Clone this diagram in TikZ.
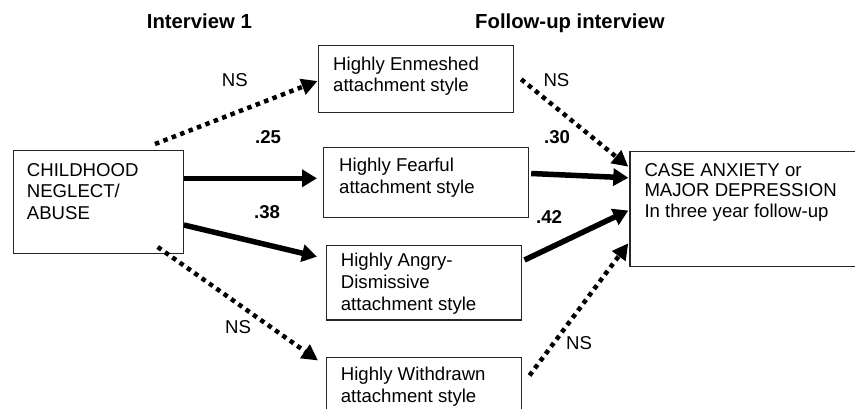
\documentclass[tikz,border=0pt]{standalone}
\usepackage{fontspec}
\setmainfont{Liberation Sans}
\usetikzlibrary{arrows.meta,calc}
\tikzset{
  box/.style={draw=black!85, line width=1.2pt, rectangle, inner sep=0pt, anchor=north west},
  boxtext/.style={anchor=north west, inner sep=0pt, align=left, font=\fontsize{18.6}{21.7}\selectfont},
  lab/.style={anchor=base west, inner sep=0pt, font=\fontsize{18.6}{21.7}\selectfont},
  blab/.style={anchor=base west, inner sep=0pt, font=\fontsize{18.6}{21.7}\selectfont\bfseries},
  ttl/.style={anchor=base west, inner sep=0pt, font=\fontsize{20.3}{24}\selectfont\bfseries},
  solidarrow/.style={line width=5.5pt, -{Triangle[length=15pt,width=17pt]}},
  dotarrow/.style={line width=4.5pt, dash pattern=on 4.5pt off 4.5pt, -{Triangle[length=16pt,width=16pt]}},
}
\begin{document}
\begin{tikzpicture}[x=1pt,y=-1pt]
\useasboundingbox (0,0) rectangle (855,409);
\clip (0,0) rectangle (855,409);

% titles
\node[ttl] (t1) at (146.7,28.3) {Interview 1};
\node[ttl] (t2) at (475,28.3) {Follow-up interview};

% boxes
\node[box, minimum width=170pt, minimum height=102.7pt] (abuse) at (12.7,150) {};
\node[box, minimum width=195pt, minimum height=67pt] (enm) at (318,45) {};
\node[box, minimum width=205pt, minimum height=70pt] (fear) at (322.7,146.7) {};
\node[box, minimum width=194.7pt, minimum height=74.3pt] (angry) at (326,245) {};
\node[box, minimum width=194.7pt, minimum height=70pt] (withd) at (326,356.5) {};
\node[box, minimum width=240pt, minimum height=115.3pt] (dep) at (629.3,150.7) {};

% box texts
\node[boxtext] (abuseT) at ($(abuse.north west)+(14,10.8)$) {\strut CHILDHOOD\\NEGLECT/\\ABUSE};
\node[boxtext] (enmT) at ($(enm.north west)+(15,9.8)$) {\strut Highly Enmeshed\\attachment style};
\node[boxtext] (fearT) at ($(fear.north west)+(16.3,9.8)$) {\strut Highly Fearful\\attachment style};
\node[boxtext] (angryT) at ($(angry.north west)+(14.7,6.5)$) {\strut Highly Angry-\\Dismissive\\attachment style};
\node[boxtext] (withdT) at ($(withd.north west)+(14.7,9)$) {\strut Highly Withdrawn\\attachment style};
\node[boxtext, font=\fontsize{18.6}{20.7}\selectfont] (depT) at ($(dep.north west)+(15,10.8)$) {\strut CASE ANXIETY or\\MAJOR DEPRESSION\\In three year follow-up};

% connectors
\draw[dotarrow] ($(abuse.north west)+(142.3,-6)$) -- ($(enm.north west)+(-0.5,36)$);
\draw[solidarrow] ($(abuse.north east)+(0,28.3)$) -- ($(fear.north west)+(-5.7,31.6)$);
\draw[solidarrow] ($(abuse.north east)+(0,75)$) -- ($(angry.north west)+(-9,11.7)$);
\draw[dotarrow] ($(abuse.north west)+(145,97)$) -- ($(withd.north west)+(-8,4)$);
\draw[dotarrow] ($(enm.north east)+(7,34.3)$) -- ($(dep.north west)+(-1,16)$);
\draw[solidarrow] ($(fear.north east)+(2.3,26.8)$) -- ($(dep.north west)+(-1,27.1)$);
\draw[solidarrow] ($(angry.north east)+(2.6,15)$) -- ($(dep.north west)+(-1,59.8)$);
\draw[dotarrow] ($(withd.north east)+(7.6,19)$) -- ($(dep.north west)+(-1,92.6)$);

% labels
\node[lab] (ns1) at (221.7,86.7) {NS};
\node[blab] (l25) at (255,143.3) {.25};
\node[blab] (l38) at (254,218.3) {.38};
\node[lab] (ns2) at (225,333.3) {NS};
\node[lab] (ns3) at (543.3,86.7) {NS};
\node[blab] (l30) at (544,143.3) {.30};
\node[blab] (l42) at (536,223.3) {.42};
\node[lab] (ns4) at (566,349) {NS};
\end{tikzpicture}
\end{document}
